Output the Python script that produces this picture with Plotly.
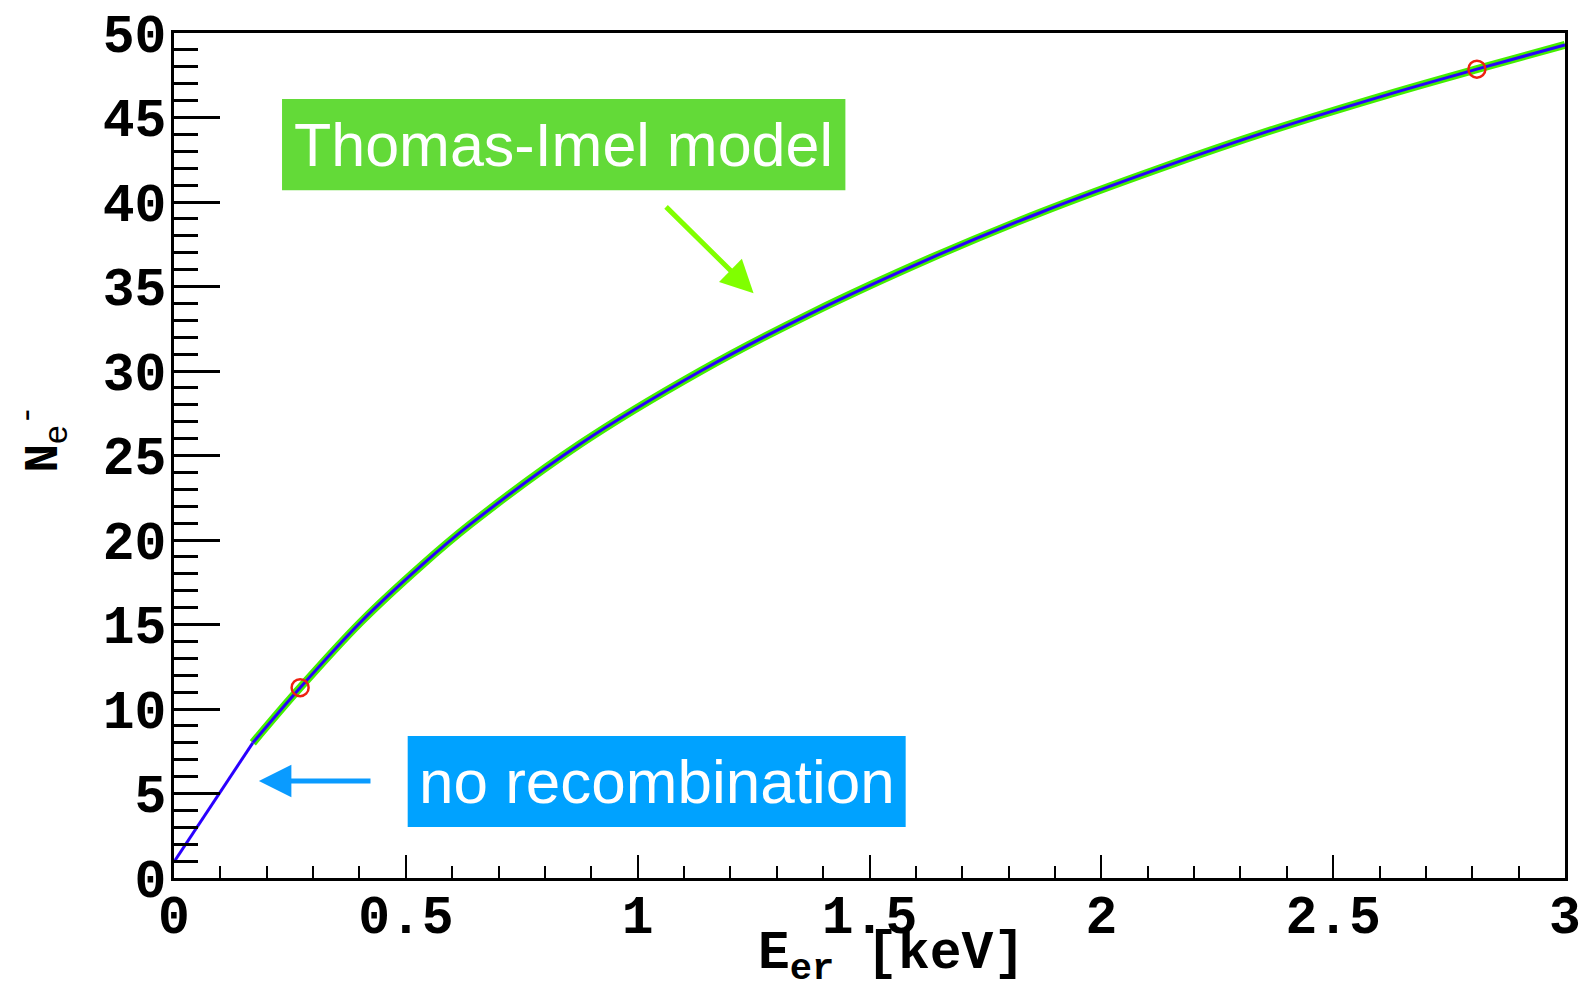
import plotly.graph_objects as go

# Recoil energy [keV] and number of ionisation electrons along the curve
e_kev = [0.0, 0.17, 0.272, 0.403, 0.532, 0.640, 0.877, 1.136, 1.373,
         1.631, 1.869, 2.127, 2.364, 2.623, 2.81, 3.0]
n_e = [0.95, 8.0, 11.26, 15.15, 18.45, 20.95, 25.7, 30.0, 33.4,
       36.67, 39.38, 42.0, 44.22, 46.4, 47.86, 49.3]

# Marked points on the curve
mark_e = [0.272, 2.81]
mark_n = [11.26, 47.86]

x_ticks = [0, 0.5, 1, 1.5, 2, 2.5, 3]
x_tick_text = ["0", "0.5", "1", "1.5", "2", "2.5", "3"]
y_ticks = [0, 5, 10, 15, 20, 25, 30, 35, 40, 45, 50]

MONO = "Liberation Mono, Courier New, monospace"
SANS = "Liberation Sans, Arial, Helvetica, sans-serif"

fig = go.Figure()

# Thomas-Imel model (wide green line)
fig.add_trace(go.Scatter(
    x=e_kev[1:], y=n_e[1:], mode="lines",
    line=dict(color="#44ee00", width=8, shape="spline", smoothing=1.0),
    showlegend=False, hoverinfo="skip"))

# No-recombination line (thin blue), straight segment then curved part
fig.add_trace(go.Scatter(
    x=e_kev[:2], y=n_e[:2], mode="lines",
    line=dict(color="#2a00ff", width=3),
    showlegend=False, hoverinfo="skip"))
fig.add_trace(go.Scatter(
    x=e_kev[1:], y=n_e[1:], mode="lines",
    line=dict(color="#2a00ff", width=3, shape="spline", smoothing=1.0),
    showlegend=False, hoverinfo="skip"))

fig.add_trace(go.Scatter(
    x=mark_e, y=mark_n, mode="markers",
    marker=dict(symbol="circle-open", size=17, color="#ee2211",
                line=dict(width=2.5, color="#ee2211")),
    showlegend=False, hoverinfo="skip"))

# Label boxes
fig.add_shape(type="rect", xref="x", yref="y", x0=0.233, x1=1.448, y0=40.7, y1=46.1,
              fillcolor="#63da38", line=dict(width=0), layer="above")
fig.add_shape(type="rect", xref="x", yref="y", x0=0.504, x1=1.578, y0=3.02, y1=8.40,
              fillcolor="#00a2ff", line=dict(width=0), layer="above")

fig.add_annotation(x=(0.233 + 1.448) / 2, y=(40.7 + 46.1) / 2, xref="x", yref="y",
                   text="Thomas-Imel model", showarrow=False,
                   font=dict(family=SANS, size=61, color="white"),
                   xanchor="center", yanchor="middle")
fig.add_annotation(x=(0.504 + 1.578) / 2, y=(3.02 + 8.40) / 2, xref="x", yref="y",
                   text="no recombination", showarrow=False,
                   font=dict(family=SANS, size=62, color="white"),
                   xanchor="center", yanchor="middle")

# Arrows
fig.add_annotation(x=1.25, y=34.6, ax=1.058, ay=39.8, xref="x", yref="y",
                   axref="x", ayref="y", text="", showarrow=True,
                   arrowhead=2, arrowsize=1.3, arrowwidth=5, arrowcolor="#80ff00")
fig.add_annotation(x=0.183, y=5.74, ax=0.427, ay=5.74, xref="x", yref="y",
                   axref="x", ayref="y", text="", showarrow=True,
                   arrowhead=2, arrowsize=1.3, arrowwidth=5, arrowcolor="#0a9bff")

# Axis titles
fig.add_annotation(x=0.516, y=-0.094, xref="paper", yref="paper",
                   text="<b>E<sub>er</sub> [keV]</b>", showarrow=False,
                   font=dict(family=MONO, size=53, color="black"),
                   xanchor="center", yanchor="middle")
fig.add_annotation(x=-0.0955, y=0.52, xref="paper", yref="paper",
                   text="<b>N</b><sub><span style='font-family:Liberation Sans'>e</span></sub><sup>-</sup>",
                   showarrow=False, textangle=-90,
                   font=dict(family=MONO, size=48, color="black"),
                   xanchor="center", yanchor="middle")

fig.update_layout(
    width=1585, height=984,
    margin=dict(l=174, r=20, t=33, b=106),
    paper_bgcolor="white", plot_bgcolor="white",
    xaxis=dict(
        range=[0, 3], tickvals=x_ticks, ticktext=x_tick_text,
        ticks="inside", ticklen=23, tickwidth=2, tickcolor="black",
        minor=dict(ticks="inside", ticklen=12, tickwidth=2, dtick=0.1, tickcolor="black"),
        showline=True, linewidth=3, linecolor="black", mirror=True,
        showgrid=False, zeroline=False, automargin=False,
        ticklabelstandoff=-12,
        tickfont=dict(family=MONO, size=53, color="black", weight="bold"),
    ),
    yaxis=dict(
        range=[0, 50], tickvals=y_ticks,
        ticks="inside", ticklen=46, tickwidth=3, tickcolor="black",
        minor=dict(ticks="inside", ticklen=24, tickwidth=3, dtick=1, tickcolor="black"),
        showline=True, linewidth=3, linecolor="black", mirror=True,
        showgrid=False, zeroline=False, automargin=False,
        ticklabelstandoff=-6,
        tickfont=dict(family=MONO, size=53, color="black", weight="bold"),
    ),
)

fig.write_html("out.html")
